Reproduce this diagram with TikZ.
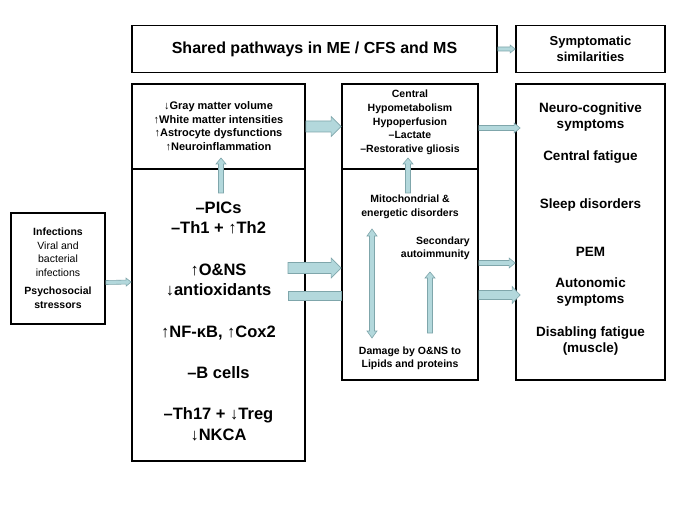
\documentclass[tikz,border=0pt]{standalone}
\usepackage{fontspec}
\setmainfont{Liberation Sans}
\usetikzlibrary{calc}
\definecolor{afill}{HTML}{B3D8DC}
\definecolor{aline}{HTML}{7FA6AB}
\tikzset{
  box/.style={draw, line width=1.8pt, rectangle, inner sep=0pt},
  txt/.style={font=\bfseries, align=center, inner sep=0pt},
  barrow/.style={fill=afill, draw=aline, line width=0.6pt},
}
% from, to, half body, half head, head length
\newcommand\blockarrow[5]{%
\draw[barrow] let \p1=($(#2)-(#1)$), \n1={veclen(\x1,\y1)}, \n2={atan2(\y1,\x1)} in
 [shift={(#1)}, rotate=\n2] (0pt,-#3) -- (\n1-#5,-#3) -- (\n1-#5,-#4) -- (\n1,0pt) -- (\n1-#5,#4) -- (\n1-#5,#3) -- (0pt,#3) -- cycle;}
\newcommand\blockbar[3]{%
\draw[barrow] let \p1=($(#2)-(#1)$), \n1={veclen(\x1,\y1)}, \n2={atan2(\y1,\x1)} in
 [shift={(#1)}, rotate=\n2] (0pt,-#3) -- (\n1,-#3) -- (\n1,#3) -- (0pt,#3) -- cycle;}
\newcommand\blockdarrow[5]{%
\draw[barrow] let \p1=($(#2)-(#1)$), \n1={veclen(\x1,\y1)}, \n2={atan2(\y1,\x1)} in
 [shift={(#1)}, rotate=\n2] (#5,-#3) -- (\n1-#5,-#3) -- (\n1-#5,-#4) -- (\n1,0pt) -- (\n1-#5,#4) -- (\n1-#5,#3) -- (#5,#3) -- (#5,#4) -- (0pt,0pt) -- (#5,-#4) -- cycle;}
\begin{document}
\begin{tikzpicture}[x=1pt,y=-1pt]
\useasboundingbox[fill=white] (0,0) rectangle (685,513);
% boxes
\node[box, minimum width=365pt, minimum height=47pt] (title) at (314.5,49) {};
\node[box, minimum width=149pt, minimum height=47pt] (sym) at (590.5,49) {};
\node[box, minimum width=173pt, minimum height=85pt] (ltop) at (218.5,126.5) {};
\node[box, minimum width=173pt, minimum height=292pt] (lbot) at (218.5,315) {};
\node[box, minimum width=136pt, minimum height=85pt] (mtop) at (410,126.5) {};
\node[box, minimum width=136pt, minimum height=211pt] (mbot) at (410,274.5) {};
\node[box, minimum width=149pt, minimum height=296pt] (rbox) at (590.5,232) {};
\node[box, minimum width=94pt, minimum height=111pt] (inf) at (58,268.5) {};
% texts
\node[txt, font=\bfseries\fontsize{16}{19}\selectfont] (t1) at (title.center) {Shared pathways in ME / CFS and MS};
\node[txt, font=\bfseries\fontsize{13}{16.5}\selectfont] (t2) at (sym.center) {Symptomatic\\similarities};
\node[txt, font=\bfseries\fontsize{11}{13.6}\selectfont] (t3) at (218.5,126) {↓Gray matter volume\\↑White matter intensities\\↑Astrocyte dysfunctions\\↑Neuroinflammation};
\node[txt, font=\bfseries\fontsize{16.5}{20}\selectfont] (p1) at (218.5,218) {–PICs\\–Th1 + ↑Th2};
\node[txt, font=\bfseries\fontsize{16.5}{20}\selectfont] (p2) at (218.5,280) {↑O\&NS\\↓antioxidants};
\node[txt, font=\bfseries\fontsize{16.5}{20}\selectfont] (p3) at (218.5,333) {↑NF-κB, ↑Cox2};
\node[txt, font=\bfseries\fontsize{16.5}{20}\selectfont] (p4) at (218.5,373) {–B cells};
\node[txt, font=\bfseries\fontsize{16.5}{21}\selectfont] (p5) at (218.5,424) {–Th17 + ↓Treg\\↓NKCA};
\node[txt, font=\bfseries\fontsize{10.5}{13.7}\selectfont] (m1) at (410,122.5) {Central\\Hypometabolism\\Hypoperfusion\\–Lactate\\–Restorative gliosis};
\node[txt, font=\bfseries\fontsize{10.5}{13.5}\selectfont] (m2) at (410,207) {Mitochondrial \&\\energetic disorders};
\node[txt, font=\bfseries\fontsize{10.5}{13.5}\selectfont, align=right, anchor=east] (m3) at (470,248.5) {Secondary\\autoimmunity};
\node[txt, font=\bfseries\fontsize{10.5}{13.5}\selectfont] (m4) at (410,358.5) {Damage by O\&NS to\\Lipids and proteins};
\node[txt, font=\bfseries\fontsize{13.5}{16}\selectfont] (r1) at (590.5,117) {Neuro-cognitive\\symptoms};
\node[txt, font=\bfseries\fontsize{13.5}{16}\selectfont] (r2) at (590.5,157) {Central fatigue};
\node[txt, font=\bfseries\fontsize{13.5}{16}\selectfont] (r3) at (590.5,205) {Sleep disorders};
\node[txt, font=\bfseries\fontsize{13.5}{16}\selectfont] (r4) at (590.5,252) {PEM};
\node[txt, font=\bfseries\fontsize{13.5}{16}\selectfont] (r5) at (590.5,292.5) {Autonomic\\symptoms};
\node[txt, font=\bfseries\fontsize{13.5}{16}\selectfont] (r6) at (590.5,341) {Disabling fatigue\\(muscle)};
\node[txt, font=\fontsize{10.5}{13.8}\selectfont] (i1) at (58,268) {\textbf{Infections}\\Viral and\\bacterial\\infections\\[4pt]\textbf{Psychosocial}\\\textbf{stressors}};
% arrows
\blockarrow{title.east}{sym.west}{2pt}{4pt}{5pt}
\blockarrow{$(inf.east)+(0,14)$}{$(lbot.west)+(0,-33)$}{2pt}{4pt}{5pt}
\blockarrow{ltop.east}{mtop.west}{5.5pt}{10pt}{10pt}
\blockarrow{$(mtop.east)+(0,1.5)$}{$(rbox.west)+(5,-104)$}{2.5pt}{5pt}{6pt}
\blockarrow{288,268}{mbot.west|-0,268}{5.5pt}{10pt}{10pt}
\blockbar{288,296}{mbot.west|-0,296}{4.5pt}
\blockarrow{mbot.east|-0,263}{rbox.west|-0,263}{2.5pt}{5pt}{6pt}
\blockarrow{mbot.east|-0,295}{$(rbox.west|-0,295)+(5,0)$}{4.5pt}{8.5pt}{8pt}
\blockarrow{221,193}{221,158}{2.5pt}{5pt}{6pt}
\blockarrow{408,193}{408,158}{2.5pt}{5pt}{6pt}
\blockdarrow{372,229}{372,338}{2.5pt}{5pt}{7pt}
\blockarrow{430,333}{430,272}{2.5pt}{5pt}{6pt}
\end{tikzpicture}
\end{document}
